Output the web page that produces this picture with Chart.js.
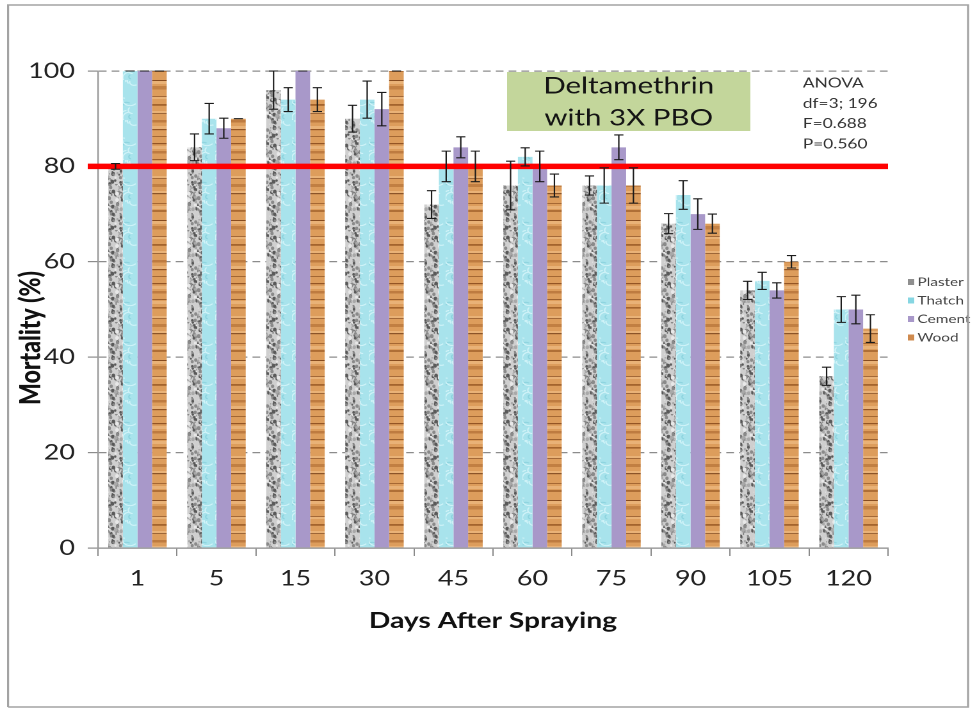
<!DOCTYPE html>
<html><head><meta charset="utf-8">
<script src="https://cdn.jsdelivr.net/npm/chart.js@4.4.1/dist/chart.umd.min.js"></script>
<style>
html,body{margin:0;padding:0;background:#fff;overflow:hidden;}
#wrap{position:absolute;left:0;top:0;width:763px;height:709px;transform:scaleX(1.28047);transform-origin:0 0;}
canvas{display:block;}
</style></head><body>
<div id="wrap"><canvas id="c" width="763" height="709"></canvas></div>
<script>
// ---- data ----
const categories = ['1','5','15','30','45','60','75','90','105','120'];
const seriesNames = ['Plaster','Thatch','Cement','Wood'];
const plaster    = [80, 84, 96, 90, 72, 76, 76, 68, 54, 36];
const plasterErr = [0.6, 2.8, 4, 2.8, 2.9, 5.1, 2, 2.1, 1.9, 1.9];
const thatch     = [100, 90, 94, 94, 80, 82, 76, 74, 56, 50];
const thatchErr  = [0, 3.2, 2.5, 3.9, 3.2, 1.9, 3.7, 3, 1.8, 2.7];
const cement     = [100, 88, 100, 92, 84, 80, 84, 70, 54, 50];
const cementErr  = [0, 2.1, 0, 3.5, 2.2, 3.2, 2.6, 3.2, 1.6, 3];
const wood       = [100, 90, 94, 100, 80, 76, 76, 68, 60, 46];
const woodErr    = [0, 0, 2.5, 0, 3.2, 2.4, 3.7, 2, 1.3, 2.9];
const yTicks = [0, 20, 40, 60, 80, 100];
const threshold = 80;
const boxLines = ['Deltamethrin', 'with 3X PBO'];
const anovaLines = ['ANOVA', 'df=3; 196', 'F=0.688', 'P=0.560'];
const xTitle = 'Days After Spraying';
const yTitle = 'Mortality (%)';

// ---- textures ----
const DPR = 2;
function hash(i){ const s = Math.sin(i*127.1 + 311.7)*43758.5453; return s - Math.floor(s); }
function makePattern(w, h, draw){
  const cv = document.createElement('canvas');
  cv.width = w*DPR; cv.height = h*DPR;
  const g = cv.getContext('2d');
  g.scale(DPR, DPR);
  draw(g, w, h);
  const p = g.createPattern(cv, 'repeat');
  p.setTransform(new DOMMatrix().scale(1/DPR));
  return p;
}
const plasterPat = makePattern(14, 46, (g,w,h)=>{
  g.fillStyle = '#cfcfcf'; g.fillRect(0,0,w,h);
  for(let i=0;i<110;i++){
    const x = hash(i)*w, y = hash(i+500)*h, r = 0.4 + hash(i+900)*1.1;
    const t = hash(i+1300);
    g.fillStyle = t<0.35 ? '#5a5a5a' : (t<0.7 ? '#8a8a8a' : (t<0.85 ? '#a9a9a9' : '#e8e8e8'));
    g.beginPath(); g.ellipse(x, y, r, r*1.4, 0, 0, Math.PI*2); g.fill();
  }
});
const thatchPat = makePattern(12, 40, (g,w,h)=>{
  g.fillStyle = '#a8e3ec'; g.fillRect(0,0,w,h);
  g.lineWidth = 1.1;
  for(let i=0;i<12;i++){
    const x = hash(i+40)*w, y = hash(i+80)*h, r = 2 + hash(i+120)*4;
    g.strokeStyle = hash(i+160) < 0.65 ? 'rgba(215,246,250,0.85)' : 'rgba(120,200,214,0.55)';
    g.beginPath(); g.arc(x, y, r, hash(i+200)*3, hash(i+200)*3 + 2.4); g.stroke();
  }
});
const cementColor = '#a898c9';
const woodStripes = [[3,1.2,'rgba(130,68,22,0.8)'],[11,2.5,'rgba(160,90,35,0.5)'],[19,0.8,'rgba(120,62,20,0.8)'],
  [27,1.6,'rgba(140,75,25,0.7)'],[38,0.8,'rgba(125,65,22,0.8)'],[44,3,'rgba(160,90,35,0.45)'],[53,1.2,'rgba(115,60,20,0.8)'],
  [63,0.8,'rgba(130,70,25,0.75)'],[70,2,'rgba(145,80,28,0.6)'],[80,1,'rgba(120,62,20,0.85)'],[86,3.5,'rgba(165,95,40,0.45)'],
  [96,0.8,'rgba(125,65,22,0.8)'],[104,1.8,'rgba(140,75,25,0.7)'],[113,0.8,'rgba(115,60,20,0.8)'],[120,2.5,'rgba(160,90,35,0.5)'],
  [129,1.2,'rgba(130,68,22,0.8)'],[136,0.8,'rgba(120,62,20,0.7)']];
const woodPat = makePattern(12, 140, (g,w,h)=>{
  g.fillStyle = '#dd9d5c'; g.fillRect(0,0,w,h);
  g.fillStyle = 'rgba(245,200,145,0.5)';
  for(let i=0;i<9;i++){ g.fillRect(0, i*15+6, w, 3); }
  for(const [y,t,c] of woodStripes){ g.fillStyle = c; g.fillRect(0, y, w, t); }
});
const fills = [plasterPat, thatchPat, cementColor, woodPat];
const swatches = ['#8f8f8f', '#86d6e2', cementColor, '#cf8a4e'];
const values = [plaster, thatch, cement, wood];
const errors = [plasterErr, thatchErr, cementErr, woodErr];

const FONT = 'Lato, "Open Sans", sans-serif';

const overlay = {
  id: 'overlay',
  afterDatasetsDraw(chart){
    const {ctx, chartArea:a, scales:{y}} = chart;
    const ty = y.getPixelForValue(threshold);
    ctx.save();
    ctx.strokeStyle = '#ff0000'; ctx.lineWidth = 5.5;
    ctx.beginPath(); ctx.moveTo(a.left - 8, ty); ctx.lineTo(a.right, ty); ctx.stroke();
    ctx.strokeStyle = '#1b1b1b'; ctx.lineWidth = 1.1;
    values.forEach((vals, di)=>{
      const meta = chart.getDatasetMeta(di);
      meta.data.forEach((bar, i)=>{
        const e = errors[di][i], v = vals[i];
        const y1 = y.getPixelForValue(v + e), y2 = y.getPixelForValue(v - e);
        const x = bar.x, cw = 3.6;
        ctx.beginPath();
        ctx.moveTo(x, y1); ctx.lineTo(x, y2);
        ctx.moveTo(x-cw, y1); ctx.lineTo(x+cw, y1);
        ctx.moveTo(x-cw, y2); ctx.lineTo(x+cw, y2);
        ctx.stroke();
      });
    });
    ctx.restore();
  },
  afterDraw(chart){
    const {ctx, chartArea:a} = chart;
    ctx.save();
    ctx.fillStyle = '#c3d69b';
    ctx.fillRect(396, 72, 190, 59);
    ctx.fillStyle = '#141414';
    ctx.font = '23px ' + FONT;
    ctx.textAlign = 'center'; ctx.textBaseline = 'middle';
    ctx.fillText(boxLines[0], 491, 86);
    ctx.fillText(boxLines[1], 491, 118);
    ctx.font = '13.5px ' + FONT; ctx.textAlign = 'left'; ctx.fillStyle = '#333';
    anovaLines.forEach((t,i)=> ctx.fillText(t, 627, 83 + i*20.4));
    ctx.font = '12px ' + FONT;
    seriesNames.forEach((n,i)=>{
      const yy = 282 + i*18.5;
      ctx.fillStyle = swatches[i]; ctx.fillRect(709, yy-3, 5, 6);
      ctx.fillStyle = '#444'; ctx.fillText(n, 716.5, yy);
    });
    ctx.fillStyle = '#111';
    ctx.font = 'bold 22px ' + FONT; ctx.textAlign = 'center';
    ctx.fillText(xTitle, (a.left + a.right)/2, 621);
    ctx.translate(24, 338); ctx.rotate(-Math.PI/2);
    ctx.font = '900 23px ' + FONT;
    ctx.fillText(yTitle, 0, 0);
    ctx.restore();
    ctx.save();
    ctx.strokeStyle = '#a3a3a3'; ctx.lineWidth = 1.6;
    ctx.beginPath();
    ctx.moveTo(6.3, 707); ctx.lineTo(6.3, 5); ctx.lineTo(756, 5); ctx.lineTo(756, 707); ctx.lineTo(6.3, 707);
    ctx.stroke();
    ctx.restore();
  }
};

new Chart(document.getElementById('c'), {
  type: 'bar',
  data: {
    labels: categories,
    datasets: seriesNames.map((n,i)=>({
      label: n, data: values[i], backgroundColor: fills[i], borderWidth: 0,
      categoryPercentage: 0.74, barPercentage: 1.0
    }))
  },
  options: {
    responsive: false, animation: false, devicePixelRatio: DPR,
    layout: { padding: { left: 0, right: 69.5, top: 71, bottom: 0 } },
    plugins: { legend: { display: false }, tooltip: { enabled: false } },
    scales: {
      x: {
        afterFit: s => { s.height = 161; },
        grid: { drawOnChartArea: false, drawTicks: true, tickLength: 8, color: '#8a8a8a', offset: true },
        border: { color: '#8a8a8a', width: 1.2 },
        ticks: { font: { family: FONT, size: 21 }, color: '#222', padding: 10 }
      },
      y: {
        min: 0, max: 100,
        afterFit: s => { s.width = 76.5; },
        afterBuildTicks: s => { s.ticks = yTicks.map(v => ({ value: v })); },
        grid: {
          color: c => (c.tick && c.tick.value === 0) ? 'rgba(0,0,0,0)' : '#8c8c8c',
          tickColor: '#8c8c8c', lineWidth: 1.2, tickLength: 8, tickBorderDash: []
        },
        border: { color: '#9a9a9a', width: 1.2, dash: [6, 4] },
        ticks: { font: { family: FONT, size: 21 }, color: '#222', padding: 10 }
      }
    }
  },
  plugins: [overlay]
});
</script>
</body></html>
